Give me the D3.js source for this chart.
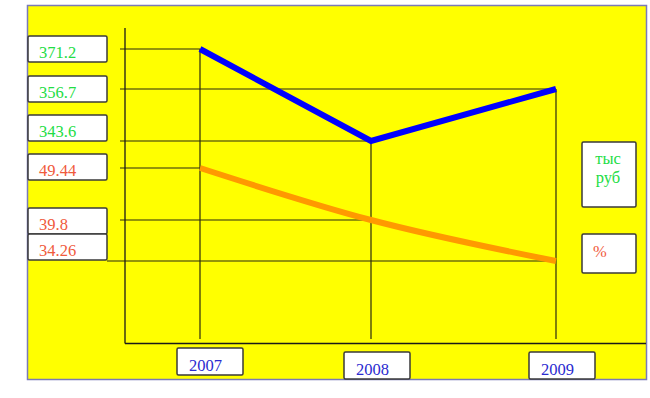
<!DOCTYPE html>
<html>
<head>
<meta charset="utf-8">
<script src="https://cdn.jsdelivr.net/npm/d3@7"></script>
<style>
  body { margin: 0; background: #fff; }
  text { font-family: "Liberation Serif", "Times New Roman", serif; }
</style>
</head>
<body>
<div class="container"></div>
<script>
var years = [2007, 2008, 2009];
var rubValues = [371.2, 343.6, 356.7];   // тыс руб
var pctValues = [49.44, 39.8, 34.26];    // %
var rubTicks = ["371.2", "356.7", "343.6"];
var pctTicks = ["49.44", "39.8", "34.26"];
var unitLabels = [["тыс", "руб"], ["%"]];

const WIDTH = 650;
const HEIGHT = 398;
const AXIS_X = 125;
const AXIS_Y = 343.5;
const GUIDE_START = 120;

var svg = d3.select('.container').append('svg')
    .attr('width', WIDTH)
    .attr('height', HEIGHT);

// chart area
svg.append('rect')
    .attr('x', 27.5).attr('y', 5.5)
    .attr('width', 619).attr('height', 374)
    .style('fill', '#ffff00')
    .style('stroke', '#7a7ab8')
    .style('stroke-width', 1.5);

// the original is a hand drawn sketch, so the scales are piecewise
var xScale = d3.scaleLinear().domain(years).range([200, 371, 556]);
var yRub = d3.scaleLinear().domain(rubValues.slice().sort(d3.ascending)).range([141, 89, 49]);
var yPct = d3.scaleLinear().domain(pctValues.slice().sort(d3.ascending)).range([261, 220, 168]);

var grid = svg.append('g').classed('grid', true)
    .style('stroke', '#2a2a10')
    .style('stroke-width', 1.2);

// horizontal guides from the value box to the point
var guides = [];
rubValues.forEach(function (v, i) { guides.push({y: yRub(v), x: xScale(years[i])}); });
pctValues.forEach(function (v, i) { guides.push({y: yPct(v), x: xScale(years[i])}); });

grid.selectAll('line.h')
    .data(guides)
    .enter()
    .append('line')
    .attr('x1', function (d, i) { return i == 5 ? 107 : GUIDE_START; })
    .attr('x2', function (d) { return d.x; })
    .attr('y1', function (d) { return d.y; })
    .attr('y2', function (d) { return d.y; });

// drop lines from the upper series
grid.selectAll('line.v')
    .data(years)
    .enter()
    .append('line')
    .attr('x1', function (d) { return xScale(d); })
    .attr('x2', function (d) { return xScale(d); })
    .attr('y1', function (d, i) { return yRub(rubValues[i]); })
    .attr('y2', 339);

// axes
var axes = svg.append('g').style('stroke', '#1a1a1a').style('stroke-width', 1.3);
axes.append('line').attr('x1', AXIS_X).attr('x2', AXIS_X).attr('y1', 28).attr('y2', AXIS_Y);
axes.append('line').attr('x1', AXIS_X).attr('x2', 646).attr('y1', AXIS_Y).attr('y2', AXIS_Y);

// series
var line = function (yScale, curve) {
    return d3.line()
        .x(function (d, i) { return xScale(years[i]); })
        .y(function (d) { return yScale(d); })
        .curve(curve);
};

svg.append('path')
    .attr('d', line(yPct, d3.curveMonotoneX)(pctValues))
    .style('fill', 'none')
    .style('stroke', '#ff9900')
    .style('stroke-width', 6);

svg.append('path')
    .attr('d', line(yRub, d3.curveLinear)(rubValues))
    .style('fill', 'none')
    .style('stroke', '#0000ff')
    .style('stroke-width', 6);

// boxes
var box = function (x, y, w, h) {
    return svg.append('rect')
        .attr('x', x).attr('y', y)
        .attr('width', w).attr('height', h)
        .attr('rx', 1.5)
        .style('fill', '#ffffff')
        .style('stroke', '#3a3a3a')
        .style('stroke-width', 1.5);
};

var valueLabels = [];
rubTicks.forEach(function (t) { valueLabels.push({text: t, y: yRub(+t), color: '#22dd44'}); });
pctTicks.forEach(function (t) { valueLabels.push({text: t, y: yPct(+t), color: '#f05a3c'}); });
var boxShift = [13, 13, 26, 14, 12, 27];

valueLabels.forEach(function (d, i) {
    var top = d.y - boxShift[i];
    box(28, top, 79, 26);
    svg.append('text')
        .attr('x', 39)
        .attr('y', top + 21.5)
        .style('font-size', '16.5px')
        .style('fill', d.color)
        .text(d.text);
});

// year labels
years.forEach(function (yr, i) {
    var left = xScale(yr) - (i == 0 ? 23 : 27);
    var top = i == 0 ? 348 : 352;
    box(left, top, 66, 27);
    svg.append('text')
        .attr('x', left + 28.5)
        .attr('y', top + 22.5)
        .attr('text-anchor', 'middle')
        .style('font-size', '16.5px')
        .style('fill', '#2a2ad0')
        .text(yr);
});

// unit boxes
box(582, 142, 54, 65);
svg.append('text')
    .attr('x', 608).attr('y', 164)
    .attr('text-anchor', 'middle')
    .style('font-size', '16.5px')
    .style('fill', '#22dd44')
    .selectAll('tspan')
    .data(unitLabels[0])
    .enter()
    .append('tspan')
    .attr('x', 608)
    .attr('dy', function (d, i) { return i ? 19 : 0; })
    .text(function (d) { return d; });

box(582, 234, 54, 39);
svg.append('text')
    .attr('x', 593).attr('y', 257)
    .style('font-size', '16.5px')
    .style('fill', '#f05a3c')
    .text(unitLabels[1][0]);
</script>
</body>
</html>
